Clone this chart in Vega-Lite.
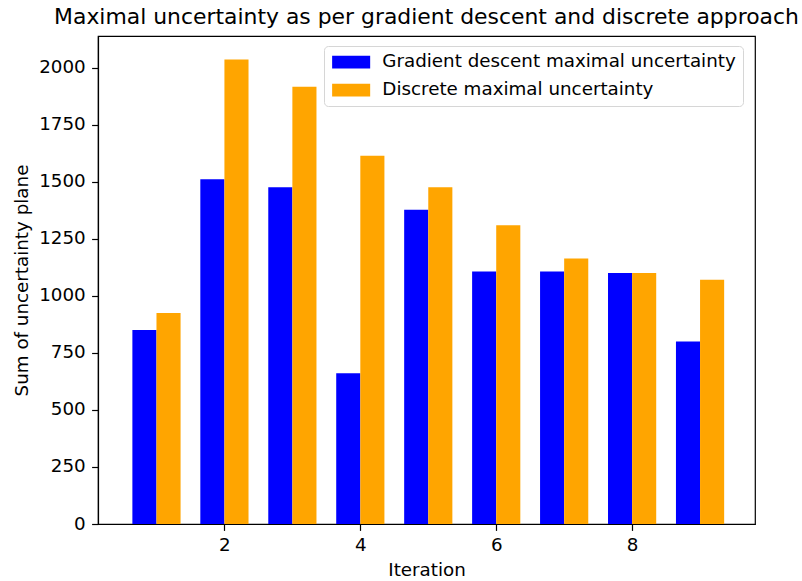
{
  "$schema": "https://vega.github.io/schema/vega-lite/v6.json",
  "width": 657,
  "height": 488,
  "autosize": "none",
  "padding": {"left": 98, "top": 36, "right": 47, "bottom": 57},
  "background": "white",
  "title": {
    "text": "Maximal uncertainty as per gradient descent and discrete approach",
    "font": "DejaVu Sans",
    "fontSize": 21.9,
    "fontWeight": "normal",
    "color": "black",
    "baseline": "alphabetic",
    "frame": "group",
    "offset": -10,
    "anchor": "middle"
  },
  "data": {
    "values": [
      {"iteration": 1, "gradient": 851, "discrete": 925},
      {"iteration": 2, "gradient": 1512, "discrete": 2037},
      {"iteration": 3, "gradient": 1477, "discrete": 1917},
      {"iteration": 4, "gradient": 661, "discrete": 1615},
      {"iteration": 5, "gradient": 1378, "discrete": 1477},
      {"iteration": 6, "gradient": 1107, "discrete": 1310},
      {"iteration": 7, "gradient": 1107, "discrete": 1164},
      {"iteration": 8, "gradient": 1101, "discrete": 1101},
      {"iteration": 9, "gradient": 800, "discrete": 1071}
    ]
  },
  "encoding": {
    "x": {
      "field": "iteration",
      "type": "quantitative",
      "scale": {"domain": [0.213, 9.735], "nice": false, "zero": false},
      "axis": {"values": [2, 4, 6, 8], "title": "Iteration", "format": "d"}
    }
  },
  "layer": [
    {
      "mark": {"type": "bar", "width": 24.1, "xOffset": -12.05},
      "encoding": {
        "y": {
          "field": "gradient",
          "type": "quantitative",
          "scale": {"domain": [0, 2140], "nice": false},
          "axis": {"values": [0, 250, 500, 750, 1000, 1250, 1500, 1750, 2000], "format": "d", "title": "Sum of uncertainty plane"}
        },
        "color": {
          "datum": "Gradient descent maximal uncertainty",
          "type": "nominal",
          "scale": {
            "domain": ["Gradient descent maximal uncertainty", "Discrete maximal uncertainty"],
            "range": ["#0000ff", "#ffa500"]
          },
          "legend": {
            "title": null,
            "orient": "none",
            "legendX": 226,
            "legendY": 10,
            "fillColor": "rgba(255,255,255,0.8)",
            "strokeColor": "#d6d6d6",
            "cornerRadius": 4,
            "padding": 7,
            "symbolType": "M-3.17,-1.05L3.17,-1.05L3.17,1.05L-3.17,1.05Z",
            "symbolSize": 144,
            "symbolStrokeWidth": 0,
            "symbolOpacity": 1,
            "symbolOffset": 11,
            "labelOffset": 22,
            "labelFont": "DejaVu Sans",
            "labelFontSize": 18.3,
            "labelColor": "black",
            "labelLimit": 500,
            "rowPadding": 9
          }
        }
      }
    },
    {
      "mark": {"type": "bar", "width": 24.1, "xOffset": 12.05},
      "encoding": {
        "y": {"field": "discrete", "type": "quantitative"},
        "color": {"datum": "Discrete maximal uncertainty", "type": "nominal"}
      }
    }
  ],
  "config": {
    "view": {"stroke": "black", "strokeWidth": 1.2},
    "axis": {
      "grid": false,
      "domainColor": "black",
      "domainWidth": 1.2,
      "tickColor": "black",
      "tickWidth": 1.2,
      "tickSize": 6.4,
      "labelPadding": 6.4,
      "labelFont": "DejaVu Sans",
      "labelFontSize": 18.3,
      "labelColor": "black",
      "titleFont": "DejaVu Sans",
      "titleFontSize": 18.3,
      "titleFontWeight": "normal",
      "titleColor": "black",
      "titlePadding": 7
    },
    "axisY": {"labelFlush": false},
    "axisX": {"labelFlush": false}
  }
}
